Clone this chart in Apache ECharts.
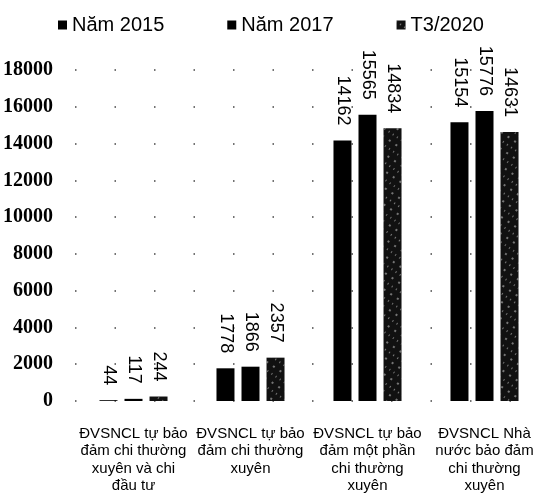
<!DOCTYPE html>
<html>
<head>
<meta charset="utf-8">
<script src="https://cdn.jsdelivr.net/npm/echarts@6/dist/echarts.min.js"></script>
<style>html,body{margin:0;padding:0;background:#fff;}#c{width:546px;height:495px;}</style>
</head>
<body>
<div id="c"></div>
<script>
var categories = [
  'ĐVSNCL tự bảo\nđảm chi thường\nxuyên và chi\nđầu tư',
  'ĐVSNCL tự bảo\nđảm chi thường\nxuyên',
  'ĐVSNCL tự bảo\nđảm một phần\nchi thường\nxuyên',
  'ĐVSNCL Nhà\nnước bảo đảm\nchi thường\nxuyên'
];
var seriesNames = ['Năm 2015', 'Năm 2017', 'T3/2020'];
var values2015 = [44, 1778, 14162, 15154];
var values2017 = [117, 1866, 15565, 15776];
var values2020 = [244, 2357, 14834, 14631];
var yTicks = [0, 2000, 4000, 6000, 8000, 10000, 12000, 14000, 16000, 18000];

var chart = echarts.init(document.getElementById('c'), null, {renderer: 'canvas'});
var labelCfg = {
  show: true, position: 'top', rotate: -90, align: 'right', verticalAlign: 'middle',
  distance: 15, color: '#000', fontFamily: 'Liberation Sans', fontSize: 18
};
function mk(name, data, extra) {
  var s = {
    name: name, type: 'bar', data: data, barWidth: 18, barGap: '39%',
    itemStyle: {color: '#000'}, label: labelCfg
  };
  if (extra) s.itemStyle = extra;
  return s;
}
chart.setOption({
  animation: false,
  backgroundColor: '#fff',
  legend: {
    top: 10, left: 53, itemGap: 63, itemWidth: 9, itemHeight: 9, icon: 'rect',
    textStyle: {fontFamily: 'Liberation Sans', fontSize: 20, color: '#000'},
    data: seriesNames
  },
  grid: {left: 75, right: 3, top: 70, bottom: 94, containLabel: false},
  xAxis: {
    type: 'category', data: categories,
    axisLine: {show: false}, axisTick: {show: false},
    axisLabel: {interval: 0, margin: 24, color: '#000', fontFamily: 'Liberation Sans', fontSize: 15, lineHeight: 17.5}
  },
  yAxis: {
    type: 'value', min: yTicks[0], max: yTicks[yTicks.length - 1], interval: 2000,
    axisLine: {show: false}, axisTick: {show: false},
    axisLabel: {margin: 22, color: '#000', fontFamily: 'Liberation Sans Narrow', fontWeight: 'bold', fontSize: 20,
      formatter: function (v) { return String(v); }},
    splitLine: {show: true, lineStyle: {color: '#444', width: 1.5, type: [1.5, 38]}}
  },
  series: [
    mk(seriesNames[0], values2015),
    mk(seriesNames[1], values2017),
    mk(seriesNames[2], values2020, {
      color: '#111',
      decal: {symbol: 'rect', symbolSize: 0.7, color: 'rgba(255,255,255,0.8)', dashArrayX: [[2, 6], [1, 4]], dashArrayY: [2, 5], rotation: 0.6}
    })
  ]
});
</script>
</body>
</html>
